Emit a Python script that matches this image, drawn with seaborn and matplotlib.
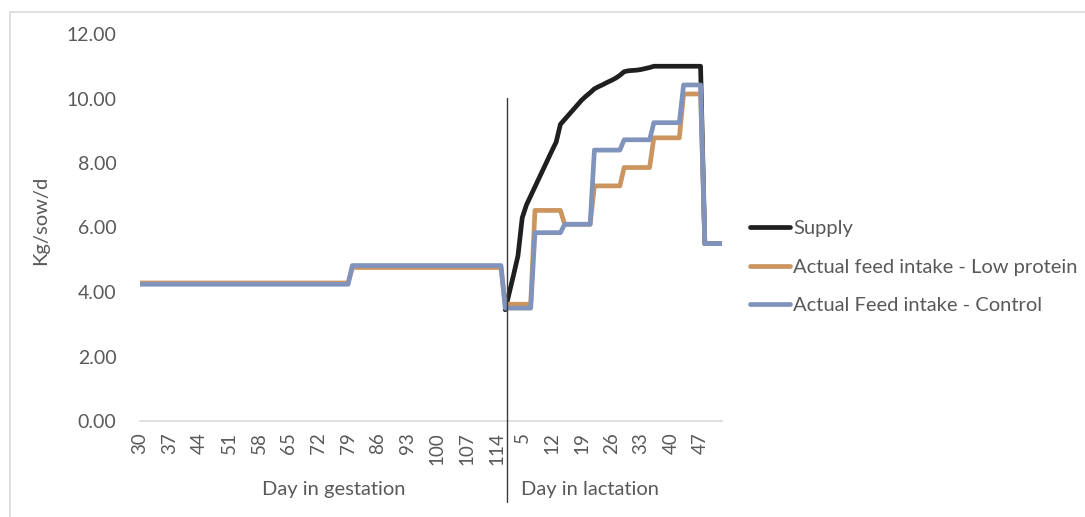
import numpy as np
import pandas as pd
import seaborn as sns
import matplotlib
matplotlib.use("Agg")
import matplotlib.pyplot as plt
from matplotlib.lines import Line2D
import matplotlib.transforms as mtransforms

# ---------------- data ----------------
gest_days = list(range(30, 116))          # Day in gestation 30..115
lact_days = list(range(1, 53))            # Day in lactation 1..52

# gestation values
gest_low = [4.28] * 50 + [4.76] * 36       # days 30-79, 80-115
gest_ctrl = [4.24] * 50 + [4.82] * 36
gest_supply = [np.nan] * 86

# lactation values (weekly steps for intake)
lact_low = [3.62] * 7 + [6.53] * 7 + [6.10] * 7 + [7.29] * 7 + [7.86] * 7 + [8.78] * 7 + [10.14] * 5 + [5.50] * 5
lact_ctrl = [3.50] * 7 + [5.84] * 7 + [6.10] * 7 + [8.40] * 7 + [8.72] * 7 + [9.25] * 7 + [10.42] * 5 + [5.50] * 5
lact_supply = [3.45, 4.00, 4.55, 5.12, 6.30, 6.70, 6.98, 7.26, 7.54, 7.82,
               8.10, 8.38, 8.65, 9.20, 9.35, 9.50, 9.65, 9.80, 9.95, 10.07,
               10.18, 10.30, 10.37, 10.43, 10.50, 10.56, 10.63, 10.72, 10.83, 10.86,
               10.87, 10.88, 10.90, 10.93, 10.96, 11.00, 11.00, 11.00, 11.00, 11.00,
               11.00, 11.00, 11.00, 11.00, 11.00, 11.00, 11.00, 5.50, 5.50, 5.50,
               5.50, 5.50]

gest_tick_days = list(range(30, 115, 7))
lact_tick_days = [5, 12, 19, 26, 33, 40, 47]

series_names = ["Supply", "Actual feed intake - Low protein", "Actual Feed intake - Control"]
series_colors = ["#1F1F1F", "#CC9560", "#7F93BD"]

# ---------------- build table ----------------
labels = [str(d) for d in gest_days] + [str(d) for d in lact_days]
pos = np.arange(len(labels))
values = {
    series_names[0]: gest_supply + lact_supply,
    series_names[1]: gest_low + lact_low,
    series_names[2]: gest_ctrl + lact_ctrl,
}
rows = []
for name in series_names:
    for p, v in zip(pos, values[name]):
        rows.append({"pos": p, "value": v, "series": name})
df = pd.DataFrame(rows).dropna()

# ---------------- style ----------------
sns.set_theme(style="white")
plt.rcParams["font.family"] = ["Lato", "DejaVu Sans"]
text_color = "#595959"

fig = plt.figure(figsize=(10.85, 5.17), dpi=100)
W, H = 1085, 517
x0, x1 = 140, 721.8
y0, y1 = 421, 34
ax = fig.add_axes([x0 / W, 1 - y0 / H, (x1 - x0) / W, (y0 - y1) / H])

sns.lineplot(data=df, x="pos", y="value", hue="series", hue_order=series_names,
             palette=dict(zip(series_names, series_colors)), estimator=None,
             linewidth=3.4, ax=ax, solid_capstyle="round", solid_joinstyle="round",
             legend=True)

ax.set_xlim(0, len(labels) - 1)
ax.set_ylim(0, 12)
ax.set_yticks(np.arange(0, 12.01, 2))
ax.set_yticklabels([f"{v:.2f}" for v in np.arange(0, 12.01, 2)])

tick_pos = [gest_days.index(d) for d in gest_tick_days] + \
           [len(gest_days) + lact_days.index(d) for d in lact_tick_days]
tick_lab = [str(d) for d in gest_tick_days] + [str(d) for d in lact_tick_days]
ax.set_xticks(tick_pos)
ax.set_xticklabels(tick_lab, rotation=90)
ax.tick_params(axis="x", length=0, pad=8, labelsize=13.5, labelcolor=text_color)
ax.tick_params(axis="y", length=0, pad=17, labelsize=14, labelcolor=text_color)

for s in ["top", "right", "left"]:
    ax.spines[s].set_visible(False)
ax.spines["bottom"].set_color("#D9D9D9")
ax.spines["bottom"].set_linewidth(1.2)

ax.set_xlabel("")
ax.set_ylabel("Kg/sow/d", fontsize=14.5, color=text_color)
ax.yaxis.set_label_coords((49 - x0) / (x1 - x0), (y0 - 220) / (y0 - y1))

# group labels
ax.text((334 - x0) / (x1 - x0), (y0 - 490) / (y0 - y1), "Day in gestation",
        transform=ax.transAxes, ha="center", va="center", fontsize=14.5, color=text_color)
ax.text((590 - x0) / (x1 - x0), (y0 - 490) / (y0 - y1), "Day in lactation",
        transform=ax.transAxes, ha="center", va="center", fontsize=14.5, color=text_color)

# divider between gestation and lactation
div_x = len(gest_days) + 0.5
trans = mtransforms.blended_transform_factory(ax.transData, ax.transAxes)
ax.plot([div_x, div_x], [10 / 12, (y0 - 502) / (y0 - y1)], transform=trans,
        color="#3A3A3A", lw=1.0, clip_on=False, zorder=5)

# legend
leg = ax.legend(loc="center left", bbox_to_anchor=((750 - x0) / (x1 - x0), (y0 - 267) / (y0 - y1)),
                frameon=False, fontsize=14.5, handlelength=2.0, handletextpad=0.15,
                labelspacing=1.05, borderpad=0, borderaxespad=0)
for t in leg.get_texts():
    t.set_color(text_color)
for h in leg.get_lines():
    h.set_linewidth(3.4)

# outer chart border (top & left visible)
fig.add_artist(Line2D([10 / W, 1], [1 - 12 / H, 1 - 12 / H], color="#D9D9D9", lw=1.2))
fig.add_artist(Line2D([10 / W, 10 / W], [0, 1 - 12 / H], color="#D9D9D9", lw=1.2))

fig.savefig("out.png", dpi=100)
